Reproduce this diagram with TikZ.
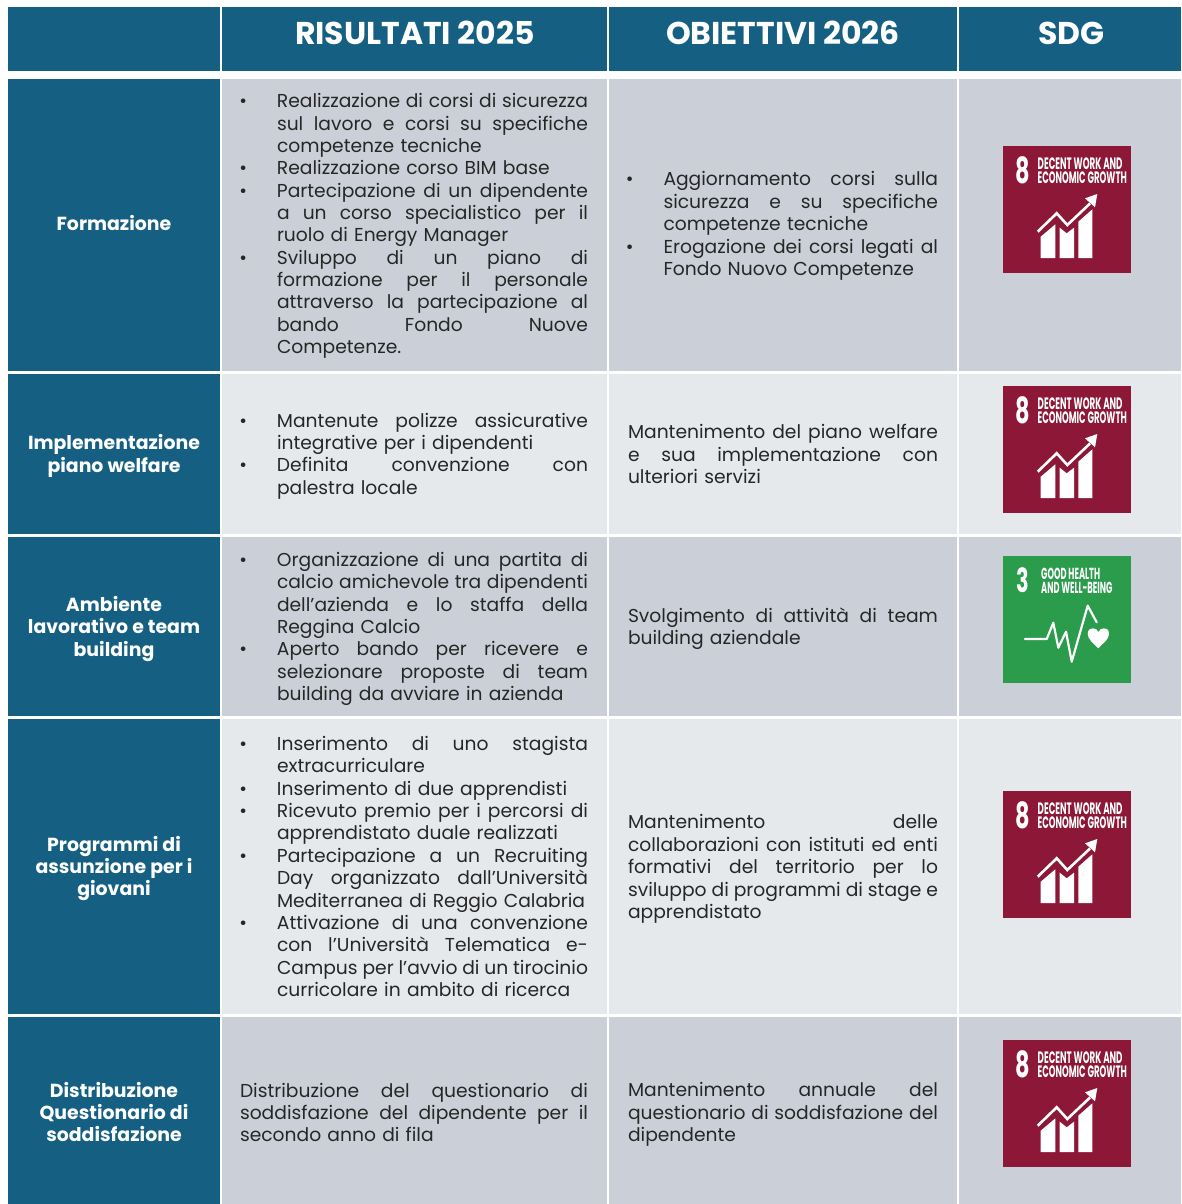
\documentclass[tikz,border=0pt]{standalone}
\usepackage{fontspec}
\setmainfont{Poppins}
\definecolor{hdr}{HTML}{156082}
\definecolor{darkcell}{HTML}{CBD0D8}
\definecolor{lightcell}{HTML}{E6E9EC}
\definecolor{txt}{HTML}{262626}
\definecolor{sdgred}{HTML}{8C1736}
\definecolor{sdggreen}{HTML}{2B9B4C}
\newdimen\jw
\newcommand\jl[1]{\hbox to \jw{\spaceskip=.28em plus 1fil minus .12em #1}}
\newcommand\nl[1]{\hbox{#1}}
\newcommand\bjl[1]{\jl{\llap{•\hskip 30pt}#1}}
\newcommand\bnl[1]{\nl{\llap{•\hskip 30pt}#1}}
\tikzset{
  cellbox/.style={inner sep=0pt,outer sep=0pt,anchor=north west},
  bodytext/.style={inner sep=0pt,outer sep=0pt,anchor=west,text=txt,font=\fontsize{18.7}{22.37}\selectfont},
  headtext/.style={text=white,font=\fontsize{31.5}{34}\selectfont\bfseries,inner sep=0pt},
  sidetext/.style={text=white,font=\fontsize{18.9}{22.3}\selectfont\bfseries,align=center,inner sep=0pt},
  logotext/.style={text=white,inner sep=0pt,anchor=west,font=\bfseries},
  logolines/.style={text=white,inner sep=0pt,anchor=west,align=left,font=\fontsize{13.2}{14}\selectfont\bfseries},
}
\newcommand\cell[6]{\node[cellbox,fill=#6,minimum width=#4pt-#2pt,minimum height=#5pt-#3pt] (#1) at (#2,#3) {};}
\newcommand\tcell[5]{\node[bodytext,text width=#4pt] (#1) at (#2,#3) {\jw=#4pt #5};}
\newcommand\sdgeight[3]{%
\begin{scope}[shift={(#2,#3)}]
\node[cellbox,fill=sdgred,minimum width=128pt,minimum height=127pt] (#1) at (0,0) {};
\node[logotext] (#1-n) at (12,24) {\fontsize{19}{19}\selectfont\scalebox{1.18}[1.9]{8}};
\node[logolines] (#1-a) at (34.5,24.5) {\scalebox{.66}[1.25]{DECENT WORK AND}\\\scalebox{.65}[1.25]{ECONOMIC GROWTH}};
\draw[white,line width=2.6pt] (34.7,85.7) -- (53.7,67.3) -- (64.3,79) -- (87,57.5);
\fill[white] (82,52.3) -- (94.3,48) -- (92,61.3) -- cycle;
\fill[white] (37.7,90.7) -- (52.3,78.3) -- (52.3,112) -- (37.7,112) -- cycle;
\fill[white] (56.7,81.7) -- (63.7,87.3) -- (71,81.7) -- (71,112) -- (56.7,112) -- cycle;
\fill[white] (75.3,75.7) -- (89.3,63.3) -- (89.3,112) -- (75.3,112) -- cycle;
\end{scope}}
\newcommand\sdgthree[3]{%
\begin{scope}[shift={(#2,#3)}]
\node[cellbox,fill=sdggreen,minimum width=128pt,minimum height=127pt] (#1) at (0,0) {};
\node[logotext] (#1-n) at (13.5,24) {\fontsize{19}{19}\selectfont\scalebox{1.1}[1.75]{3}};
\node[logolines,font=\fontsize{12.8}{14}\selectfont\bfseries] (#1-a) at (38,25) {\scalebox{.65}[1.25]{GOOD HEALTH}\\\scalebox{.65}[1.25]{AND WELL-BEING}};
\draw[white,line width=2.2pt,line join=round,line cap=round] (22,83) -- (43.7,83) -- (50.3,66.7) -- (55.3,91.7) -- (63,75.7) -- (68.7,105.7) -- (84.7,49.7) -- (93.7,66.3);
\fill[white] (95.3,92.3) .. controls (90,87) and (84.7,83) .. (84.7,78) .. controls (84.7,73.5) and (87.5,72.3) .. (90,72.3) .. controls (92.5,72.3) and (94.3,73.5) .. (95.3,76) .. controls (96.5,73.5) and (98.5,72.3) .. (101,72.3) .. controls (103.5,72.3) and (106,73.5) .. (106,78) .. controls (106,83) and (100.5,87) .. (95.3,92.3) -- cycle;
\end{scope}}
\begin{document}
\begin{tikzpicture}[x=1pt,y=-1pt]
\useasboundingbox (0,0) rectangle (1181,1204);
\fill[white] (0,0) rectangle (1181,1204);
% header
\cell{h0}{8}{7}{220}{71}{hdr}
\cell{h1}{222}{7}{607}{71}{hdr}
\cell{h2}{609}{7}{957}{71}{hdr}
\cell{h3}{959}{7}{1181}{71}{hdr}
\node[headtext] (ht1) at (415,33) {RISULTATI 2025};
\node[headtext] (ht2) at (783,33) {OBIETTIVI 2026};
\node[headtext] (ht3) at (1071.5,33) {SDG};
% rows
\cell{a0}{8}{79}{220}{371}{hdr}
\cell{a1}{222}{79}{607}{371}{darkcell}
\cell{a2}{609}{79}{957}{371}{darkcell}
\cell{a3}{959}{79}{1181}{371}{darkcell}
\cell{b0}{8}{374}{220}{534}{hdr}
\cell{b1}{222}{374}{607}{534}{lightcell}
\cell{b2}{609}{374}{957}{534}{lightcell}
\cell{b3}{959}{374}{1181}{534}{lightcell}
\cell{c0}{8}{537}{220}{716}{hdr}
\cell{c1}{222}{537}{607}{716}{darkcell}
\cell{c2}{609}{537}{957}{716}{darkcell}
\cell{c3}{959}{537}{1181}{716}{darkcell}
\cell{d0}{8}{719}{220}{1014}{hdr}
\cell{d1}{222}{719}{607}{1014}{lightcell}
\cell{d2}{609}{719}{957}{1014}{lightcell}
\cell{d3}{959}{719}{1181}{1014}{lightcell}
\cell{e0}{8}{1017}{220}{1204}{hdr}
\cell{e1}{222}{1017}{607}{1204}{darkcell}
\cell{e2}{609}{1017}{957}{1204}{darkcell}
\cell{e3}{959}{1017}{1181}{1204}{darkcell}
% side labels
\node[sidetext] (s1) at (114,223) {Formazione};
\node[sidetext] (s2) at (114,456) {Implementazione\\piano welfare};
\node[sidetext] (s3) at (114,629) {Ambiente\\lavorativo e team\\building};
\node[sidetext] (s4) at (114,868.5) {Programmi di\\assunzione per i\\giovani};
\node[sidetext] (s5) at (114,1112) {Distribuzione\\Questionario di\\soddisfazione};
% column 1 text
\tcell{ta1}{277}{226}{311}{%
\bjl{Realizzazione di corsi di sicurezza}
\jl{sul lavoro e corsi su specifiche}
\nl{competenze tecniche}
\bnl{Realizzazione corso BIM base}
\bjl{Partecipazione di un dipendente}
\jl{a un corso specialistico per il}
\nl{ruolo di Energy Manager}
\bjl{Sviluppo di un piano di}
\jl{formazione per il personale}
\jl{attraverso la partecipazione al}
\jl{bando Fondo Nuove}
\nl{Competenze.}}
\tcell{tb1}{277}{456}{311}{%
\bjl{Mantenute polizze assicurative}
\nl{integrative per i dipendenti}
\bjl{Definita convenzione con}
\nl{palestra locale}}
\tcell{tc1}{277}{629}{311}{%
\bjl{Organizzazione di una partita di}
\jl{calcio amichevole tra dipendenti}
\jl{dell’azienda e lo staffa della}
\nl{Reggina Calcio}
\bjl{Aperto bando per ricevere e}
\jl{selezionare proposte di team}
\nl{building da avviare in azienda}}
\tcell{td1}{277}{866.5}{311}{%
\bjl{Inserimento di uno stagista}
\nl{extracurriculare}
\bnl{Inserimento di due apprendisti}
\bjl{Ricevuto premio per i percorsi di}
\nl{apprendistato duale realizzati}
\bjl{Partecipazione a un Recruiting}
\jl{Day organizzato dall’Università}
\nl{Mediterranea di Reggio Calabria}
\bjl{Attivazione di una convenzione}
\jl{con l’Università Telematica e-}
\jl{Campus per l’avvio di un tirocinio}
\nl{curricolare in ambito di ricerca}}
\tcell{te1}{240}{1112.5}{348}{%
\jl{Distribuzione del questionario di}
\jl{soddisfazione del dipendente per il}
\nl{secondo anno di fila}}
% column 2 text
\tcell{ta2}{663.5}{226}{274.5}{%
\bjl{Aggiornamento corsi sulla}
\jl{sicurezza e su specifiche}
\nl{competenze tecniche}
\bjl{Erogazione dei corsi legati al}
\nl{Fondo Nuovo Competenze}}
\tcell{tb2}{628}{454}{310}{%
\jl{Mantenimento del piano welfare}
\jl{e sua implementazione con}
\nl{ulteriori servizi}}
\tcell{tc2}{628}{629}{310}{%
\jl{Svolgimento di attività di team}
\nl{building aziendale}}
\tcell{td2}{628}{869}{310}{%
\jl{Mantenimento delle}
\jl{collaborazioni con istituti ed enti}
\jl{formativi del territorio per lo}
\jl{sviluppo di programmi di stage e}
\nl{apprendistato}}
\tcell{te2}{628}{1114.5}{310}{%
\jl{Mantenimento annuale del}
\jl{questionario di soddisfazione del}
\nl{dipendente}}
% logos
\sdgeight{l1}{1003}{146}
\sdgeight{l2}{1003}{386}
\sdgthree{l3}{1003}{556}
\sdgeight{l4}{1003}{791}
\sdgeight{l5}{1003}{1040}
\end{tikzpicture}
\end{document}
